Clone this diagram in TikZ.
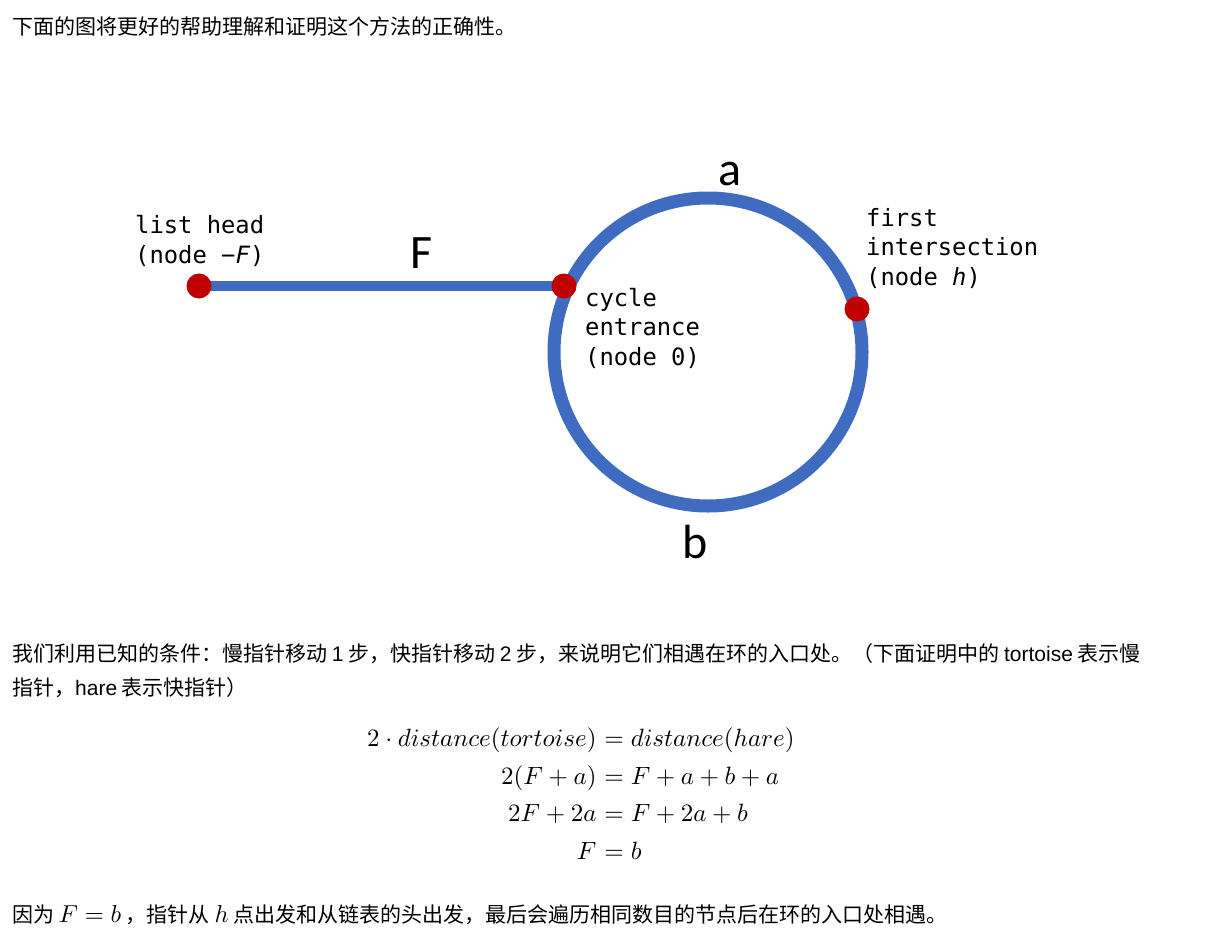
\documentclass[tikz,border=0pt]{standalone}
\usepackage{amsmath}
\usepackage[no-math]{fontspec}
\setmainfont{Liberation Sans}
\newfontfamily\cjkfont{Noto Sans CJK SC}
\newfontfamily\calfont{Carlito}
\newfontfamily\monofont{DejaVu Sans Mono}
\newcommand\lat[1]{{\rmfamily #1}}
\newcommand\mymath[1]{\scalebox{2.45}{\fontsize{10}{12}\selectfont$#1$}}
\definecolor{cycblue}{RGB}{63,107,192}
\definecolor{dotred}{RGB}{192,0,0}
\tikzset{
  reddot/.style={circle, fill=dotred, inner sep=0pt, minimum size=25pt},
  biglabel/.style={font=\calfont\fontsize{48}{48}\selectfont, inner sep=0pt, anchor=base},
  monolabel/.style={font=\monofont\fontsize{23.8}{29.5}\selectfont, align=left, inner sep=0pt, anchor=base west},
  para/.style={font=\cjkfont\fontsize{21}{34}\selectfont, inner sep=0pt, anchor=base west, align=left},
  eqn/.style={font=\fontsize{10}{12}\selectfont, inner sep=0pt, scale=2.5},
  path/.style={cycblue, line width=10pt},
  ring/.style={cycblue, line width=13pt},
}
\begin{document}
\begin{tikzpicture}[x=1pt,y=-1pt]
\useasboundingbox (0,0) rectangle (1207,948);
\fill[white] (0,0) rectangle (1207,948);

\node[para] (intro) at (12,34) {下面的图将更好的帮助理解和证明这个方法的正确性。};

% diagram
\coordinate (cc) at (708,352);
\coordinate (headpt) at (199,286);
\coordinate (entpt) at (564,286);
\coordinate (hpt) at (857,309);
\draw[ring] (cc) circle[radius=154pt];
\draw[path] (headpt) -- (entpt);
\node[reddot] (head) at (headpt) {};
\node[reddot] (entrance) at (entpt) {};
\node[reddot] (hnode) at (hpt) {};

% base anchor of a multi-line node is on its last line
\node[monolabel] (headlbl) at (135,263) {list head\\(node −\textit{F})};
\node[monolabel] (entlbl) at (585,365) {cycle\\entrance\\(node 0)};
\node[monolabel] (hlbl) at (866,285) {first\\intersection\\(node \textit{h})};

\node[biglabel] (alab) at (730,185) {a};
\node[biglabel] (flab) at (422,268) {F};
\node[biglabel] (blab) at (695,558) {b};

% text
\node[para] (p1) at (12,695) {我们利用已知的条件：慢指针移动 \lat{1} 步，快指针移动 \lat{2} 步，来说明它们相遇在环的入口处。（下面证明中的 \lat{tortoise} 表示慢\\指针，\lat{hare} 表示快指针）};

\node[eqn, anchor=base east] (l1) at (597,746) {$2\cdot distance(tortoise)$};
\node[eqn, anchor=base west] (r1) at (597,746) {${}=distance(hare)$};
\node[eqn, anchor=base east] (l2) at (597,784) {$2(F+a)$};
\node[eqn, anchor=base west] (r2) at (597,784) {${}=F+a+b+a$};
\node[eqn, anchor=base east] (l3) at (597,821) {$2F+2a$};
\node[eqn, anchor=base west] (r3) at (597,821) {${}=F+2a+b$};
\node[eqn, anchor=base east] (l4) at (597,859) {$F$};
\node[eqn, anchor=base west] (r4) at (597,859) {${}=b$};

\node[para] (p2) at (12,922) {因为 \mymath{F=b} ，指针从 \mymath{h} 点出发和从链表的头出发，最后会遍历相同数目的节点后在环的入口处相遇。};
\end{tikzpicture}
\end{document}
